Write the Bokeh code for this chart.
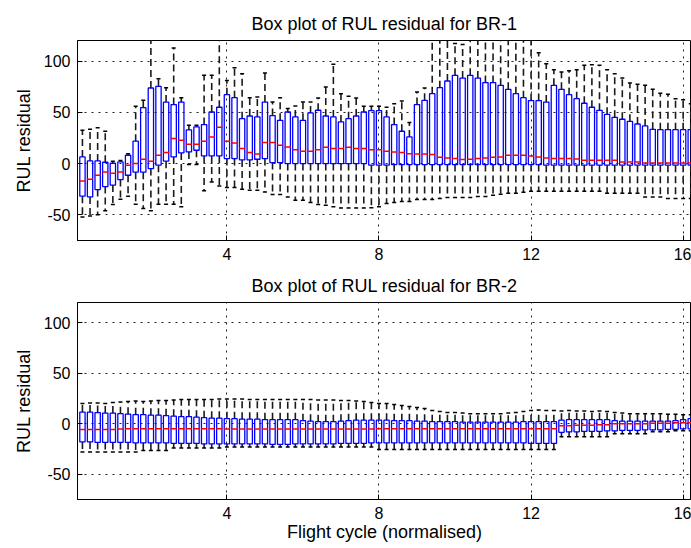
import numpy as np
from bokeh.plotting import figure
from bokeh.models import ColumnDataSource, Range1d, FixedTicker
from bokeh.layouts import column
from bokeh.embed import file_html
from bokeh.resources import INLINE

# ---------------- data ----------------
cycle = [round(0.2 * k, 1) for k in range(1, 82)]  # box positions (flight cycle, normalised)

x_ticks = [4, 8, 12, 16]
y_ticks = [-50, 0, 50, 100]
y_tick_labels = ["-50", "0", "50", "100"]

titles = ["Box plot of RUL residual for BR-1", "Box plot of RUL residual for BR-2"]
x_label = "Flight cycle (normalised)"
y_label = "RUL residual"

# BR-1
br1_q1 = [-31.8, -32.5, -25.3, -22.4, -21, -15.6, -11.4, -8.4, -8.4, -4.9,
          -1.6, 2.3, 6.5, 10.4, 11.4, 13, 7.5, 7.5, 7.5, 4.9,
          4.9, 3.6, 3.6, 4.2, 4.9, 1, 1, 0, 0, 0,
          0, 0, 0, 0, 0, 0, 0, 0, -1.6, -1.6,
          -1.6, -1, -1, -1, -1, -1, -1, -1, -1, -1,
          -1, -1, -1, -1, -1, -1, -1, -1, -1, -1,
          -1, -1.6, -1.6, -1.6, -1.6, -1.6, -1.6, -1.6, -1.6, -1.6,
          -1.6, -1.6, -1.6, -1.6, -1.6, -1.6, -1.6, -1.6, -1.6, -1.6,
          -1.6]
br1_med = [-16.9, -15.3, -11.4, -8.1, -9.4, -8.1, -1.6, 0, 4.2, 2.3,
           8.1, 10.7, 24.4, 22.7, 18.8, 18.8, 21.8, 26, 35.4, 21.8,
           20, 14.6, 10.7, 9.4, 20.5, 20.5, 17.9, 16.2, 13.6, 12,
           12, 13.6, 15.9, 14.6, 14.6, 15.9, 14.6, 14.6, 13.6, 13.6,
           12, 11.4, 10.7, 9.7, 9.4, 9.4, 8.8, 6.2, 5.5, 4.9,
           3.9, 4.2, 4.9, 5.5, 6.2, 6.5, 8.1, 8.1, 8.1, 7.5,
           6.5, 5.5, 4.9, 4.9, 4.9, 4.5, 3.2, 3.2, 3.2, 3.2,
           3.2, 1.6, 1.6, 1.6, 0.6, 0.6, 0.6, 0.6, 0.6, 0.6,
           0.6]
br1_q3 = [6.5, 2.6, 2.6, 1.3, 0.3, 1.6, 8.1, 21.8, 54.5, 73.7,
          75.3, 60, 57.5, 60, 32.8, 35.7, 38, 50.3, 54.9, 67.2,
          64.3, 43.8, 46.4, 45.5, 60, 46.8, 42.2, 50.3, 45.5, 42.2,
          49.4, 52, 46.4, 45.5, 40.6, 43.8, 46.4, 50.3, 51.6, 51.6,
          45.5, 38, 31.5, 26, 57.5, 61.7, 68.2, 74, 80.5, 86,
          83.4, 86, 83.4, 79, 79, 76.3, 72.4, 68.2, 64.3, 61.4,
          61.4, 60, 76.3, 72.4, 67.2, 63.3, 58.8, 54.9, 51.9, 48,
          45.1, 43.2, 41.2, 38.6, 36.7, 33.4, 33.1, 33.1, 33.1, 33.1,
          33.1]
br1_lo = [-52, -51, -50, -46, -40, -34.7, -31.8, -39.6, -43.8, -46,
          -39.6, -39.6, -39.6, -42.2, -1, -1, -26.6, -17.9, -21.8, -23.4,
          -23.4, -25, -26, -26, -27.6, -30.2, -30.2, -32.5, -35.7, -35.7,
          -38, -40, -40.6, -42.2, -43.2, -43.2, -43.2, -43.2, -43, -42,
          -39, -38, -37, -37, -35, -35, -35, -34, -33, -33,
          -33, -33, -32, -32, -31, -30, -29, -29, -28, -27,
          -27, -27, -27, -27, -27, -27, -27, -27, -27, -29,
          -29, -29, -29, -29, -32.5, -32.5, -32.5, -34, -34, -34,
          -34]
br1_hi = [32.5, 33.4, 35, 31.5, 2.3, 3, 9.7, 56, 61.7, 130,
          82.8, 74, 112.7, 64.3, 37.3, 37.3, 86, 86, 130, 81,
          93.5, 87.7, 64.3, 65, 88.3, 60, 64.3, 53.6, 56.2, 60,
          60, 64, 74.7, 96.8, 68.2, 65.6, 64, 56, 56, 56,
          55, 58.4, 61, 40, 69.8, 73.7, 130, 130, 130, 117,
          116, 130, 130, 130, 130, 130, 130, 130, 130, 130,
          108, 97.4, 91.6, 89.3, 90.6, 91.6, 95.8, 96.4, 95.8, 91.6,
          87.7, 83.4, 78.6, 77.3, 76.3, 72.4, 68.5, 67.5, 63.3, 62.3,
          58.4]

# BR-2
br2_q1 = [-18, -18, -18.5, -18.5, -18.5, -18.5, -18.5, -19, -19, -19,
          -19, -19, -19.5, -19.5, -19.5, -19.5, -20, -20, -20, -20,
          -20, -20, -20, -20, -20, -20.5, -20.5, -20.5, -20, -20,
          -20, -20, -20, -20, -19.5, -19.5, -19.5, -19.5, -19, -19,
          -19, -19, -19, -19, -19, -19, -19, -19, -19, -19,
          -19, -19, -19, -19, -19, -19, -19, -19, -19, -19.5,
          -19.5, -19.5, -19.5, -8.5, -8, -8, -7.5, -7.5, -7.5, -7,
          -7, -6.5, -6.5, -6.5, -6, -6, -6, -5.5, -5.5, -5,
          -5]
br2_med = [-5.6, -5.6, -5.6, -5.6, -5.6, -5.3, -5, -5, -5, -5,
           -5, -5, -5, -5, -5, -5, -5, -5, -5, -5.3,
           -5.3, -5.3, -5.3, -5.3, -5.3, -5.3, -5.3, -5.3, -5.3, -5.3,
           -5.3, -5.3, -5.3, -5.3, -5.3, -5.3, -5.3, -5.3, -5.3, -5,
           -5, -5, -5, -5, -5, -5, -5, -5, -5, -5,
           -5, -5, -5, -5, -5, -5, -5, -5, -5, -5,
           -5, -5, -5, -2, -2, -1.5, -1.5, -1.5, -1, -1,
           0, 0, 0, 0, 0, 0.5, 0.5, 0.5, 1, 1,
           1]
br2_q3 = [11.5, 11.5, 11, 10.5, 10.5, 10, 9.5, 9, 9, 8.5,
          8.5, 8, 7.5, 7, 7, 6.5, 6, 5.5, 5.5, 5,
          5, 4.5, 4.5, 4.5, 4, 4, 4, 4, 4, 3,
          2.5, 2, 2, 2, 2.5, 3, 3.5, 3.5, 3.5, 3.5,
          3.5, 3, 3, 3, 2.5, 2.5, 2, 2, 2, 2,
          1.5, 1.5, 1.5, 1.5, 1.5, 1.5, 1.5, 1.5, 2, 2,
          2, 2, 2, 3.5, 4, 4, 4, 4, 4, 4,
          3, 2.5, 2.5, 2.5, 2.5, 2.5, 2.5, 2.5, 3, 4,
          5]
br2_lo = [-28, -28, -28, -28, -28, -28, -28, -28, -26.5, -26.5,
          -26.5, -26.5, -24, -24, -24, -24, -24, -24, -24, -23,
          -23, -23, -23, -23, -23, -23, -23, -23, -23, -23,
          -23, -23, -23, -23, -23, -23, -23, -23, -23, -25.5,
          -25.5, -25.5, -25.5, -25.5, -25.5, -25.5, -25.5, -25.5, -25.5, -25.5,
          -25.5, -25.5, -25.5, -25.5, -25.5, -25.5, -25.5, -25.5, -25.5, -25.5,
          -25.5, -25.5, -25.5, -13, -13, -13, -13, -13, -13, -13,
          -10, -10, -10, -10, -10, -8, -8, -8, -7, -7,
          -7]
br2_hi = [20, 20.5, 20.5, 20, 21, 21.5, 22, 22.5, 22, 22.5,
          23, 23, 23.5, 24, 24, 24, 24, 24, 24.5, 24.5,
          24.5, 24.5, 24, 24, 24, 24, 24, 24, 24, 24,
          24, 23.5, 23.5, 23.5, 23, 23, 22.5, 22, 21, 20,
          20, 19, 18, 17, 16, 15, 13, 12, 11, 11,
          10.5, 10, 10, 10, 10, 10, 10.5, 11, 12, 13,
          13.5, 13, 13, 12.5, 13, 12.5, 12.5, 12, 12.5, 12,
          11, 10.5, 10, 10, 10, 10, 10, 9.5, 9.5, 9,
          9]

# ---------------- styling ----------------
FONT = "Liberation Sans"
BOX_W = 0.14


def make_panel(title, q1, med, q3, lo, hi, height, b_top, b_bottom, xlabel=None):
    p = figure(width=691, height=height, output_backend="svg", toolbar_location=None,
               x_range=Range1d(0.07, 16.22), y_range=Range1d(-75, 120),
               min_border_left=77, min_border_right=0,
               min_border_top=b_top, min_border_bottom=b_bottom,
               background_fill_color="white", border_fill_color="white")
    p.outline_line_color = "black"
    p.outline_line_width = 1
    p.title.text = title
    p.title.align = "center"
    p.title.text_font = FONT
    p.title.text_font_size = "18px"
    p.title.text_font_style = "normal"
    p.title.text_color = "black"
    p.title.standoff = 14
    p.title.text_line_height = 1.0

    src = ColumnDataSource(dict(x=cycle, q1=q1, med=med, q3=q3, lo=lo, hi=hi))

    # whiskers (dashed)
    p.segment(x0="x", y0="q3", x1="x", y1="hi", source=src, line_color="#1a1a1a",
              line_width=1.6, line_dash="7 4")
    p.segment(x0="x", y0="q1", x1="x", y1="lo", source=src, line_color="#1a1a1a",
              line_width=1.6, line_dash="7 4")
    # whisker end caps
    p.scatter(x="x", y="hi", source=src, marker="dash", size=4, line_color="black", line_width=1.5)
    p.scatter(x="x", y="lo", source=src, marker="dash", size=4, line_color="black", line_width=1.5)
    # boxes
    p.vbar(x="x", width=BOX_W, top="q3", bottom="q1", source=src,
           fill_alpha=0, line_color="#0000ff", line_width=1.3)
    # medians
    p.scatter(x="x", y="med", source=src, marker="dash", size=6, line_color="#ff0000", line_width=1.5)

    # axes
    p.xaxis.ticker = FixedTicker(ticks=x_ticks)
    p.yaxis.ticker = FixedTicker(ticks=y_ticks)
    p.yaxis.major_label_overrides = {t: l for t, l in zip(y_ticks, y_tick_labels)}
    for ax in (p.xaxis[0], p.yaxis[0]):
        ax.major_tick_in = 5
        ax.major_tick_out = 0
        ax.minor_tick_line_color = None
        ax.axis_line_color = "black"
        ax.major_tick_line_color = "black"
        ax.major_label_text_font = FONT
        ax.major_label_text_font_size = "16px"
        ax.major_label_text_color = "black"
        ax.axis_label_text_font = FONT
        ax.axis_label_text_font_size = "18px"
        ax.axis_label_text_font_style = "normal"
        ax.axis_label_text_color = "black"
    p.xaxis.major_label_standoff = 7
    p.yaxis.major_label_standoff = 7
    p.yaxis.axis_label = y_label
    p.yaxis.axis_label_standoff = 7
    if xlabel:
        p.xaxis.axis_label = xlabel
        p.xaxis.axis_label_standoff = 0

    # dotted grid
    p.xgrid.ticker = FixedTicker(ticks=x_ticks)
    p.ygrid.ticker = FixedTicker(ticks=y_ticks)
    for g in (p.xgrid[0], p.ygrid[0]):
        g.grid_line_color = "#222222"
        g.grid_line_dash = "2 5"
        g.grid_line_width = 1
    return p


p1 = make_panel(titles[0], br1_q1, br1_med, br1_q3, br1_lo, br1_hi, 266, 40, 26)
p2 = make_panel(titles[1], br2_q1, br2_med, br2_q3, br2_lo, br2_hi, 282, 36, 49, xlabel=x_label)

layout = column(p1, p2, spacing=0)
open("out.html", "w").write(file_html(layout, INLINE))
